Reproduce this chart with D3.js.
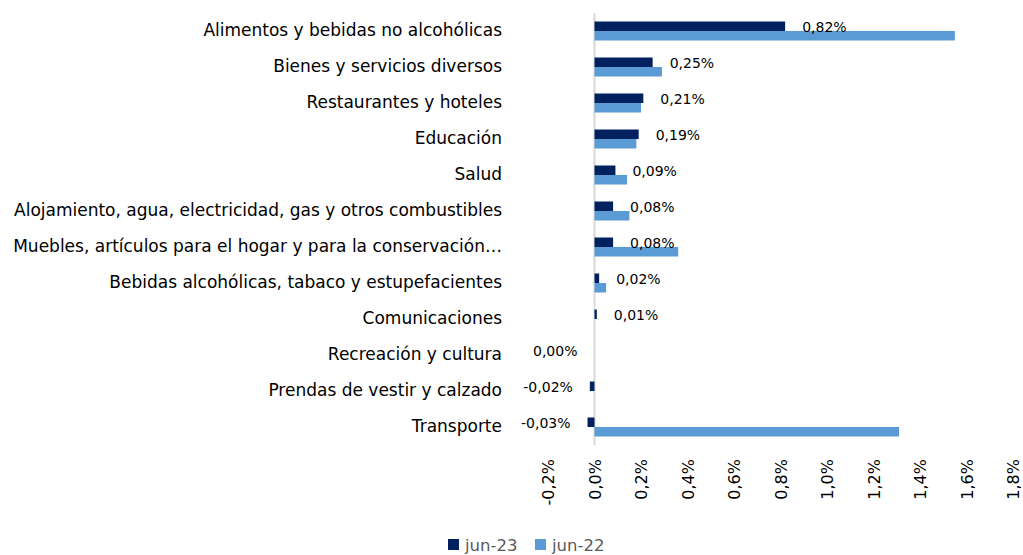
<!DOCTYPE html>
<html>
<head>
<meta charset="utf-8">
<script src="https://cdn.jsdelivr.net/npm/d3@7"></script>
<style>
  html, body { margin: 0; padding: 0; background: #fff; }
  svg { display: block; font-family: "DejaVu Sans", sans-serif; }
</style>
</head>
<body>
<svg id="chart" width="1023" height="555"></svg>
<script>
const categories = [
  "Alimentos y bebidas no alcohólicas",
  "Bienes y servicios diversos",
  "Restaurantes y hoteles",
  "Educación",
  "Salud",
  "Alojamiento, agua, electricidad, gas y otros combustibles",
  "Muebles, artículos para el hogar y para la conservación…",
  "Bebidas alcohólicas, tabaco y estupefacientes",
  "Comunicaciones",
  "Recreación y cultura",
  "Prendas de vestir y calzado",
  "Transporte"
];
const jun23 = [0.82, 0.25, 0.21, 0.19, 0.09, 0.08, 0.08, 0.02, 0.01, 0.00, -0.02, -0.03];
const jun22 = [1.55, 0.29, 0.20, 0.18, 0.14, 0.15, 0.36, 0.05, 0.00, 0.00, 0.00, 1.31];
const seriesNames = ["jun-23", "jun-22"];
const xTicks = [-0.2, 0, 0.2, 0.4, 0.6, 0.8, 1.0, 1.2, 1.4, 1.6, 1.8];

const colors = ["#002060", "#5B9BD5"];
const font = "'DejaVu Sans', sans-serif";
const svg = d3.select("#chart");

const x = d3.scaleLinear().domain([-0.2, 1.8]).range([548, 1013]);
const y = d3.scaleBand().domain(categories).range([13, 445]);
const barH = 9.5;

const fmtPct = v => v.toFixed(2).replace(".", ",") + "%";
const fmtTick = v => v.toFixed(1).replace(".", ",") + "%";

// zero axis line
svg.append("line")
  .attr("x1", x(0)).attr("x2", x(0))
  .attr("y1", y.range()[0]).attr("y2", y.range()[1])
  .attr("stroke", "#d9d9d9").attr("stroke-width", 2);

const rows = categories.map((c, i) => ({c, a: jun23[i], b: jun22[i]}));

// jun-23 bars
svg.append("g").selectAll("rect").data(rows).join("rect")
  .attr("x", d => x(Math.min(0, d.a)))
  .attr("width", d => Math.abs(x(d.a) - x(0)))
  .attr("y", d => y(d.c) + y.bandwidth() / 2 - barH)
  .attr("height", barH)
  .attr("fill", colors[0]);

// jun-22 bars
svg.append("g").selectAll("rect").data(rows).join("rect")
  .attr("x", d => x(Math.min(0, d.b)))
  .attr("width", d => Math.abs(x(d.b) - x(0)))
  .attr("y", d => y(d.c) + y.bandwidth() / 2)
  .attr("height", barH)
  .attr("fill", colors[1]);

// data labels (jun-23)
svg.append("g").selectAll("text").data(rows).join("text")
  .attr("x", d => d.a > 0 ? x(d.a) + 17 : x(Math.min(0, d.a)) - 17)
  .attr("y", d => y(d.c) + y.bandwidth() / 2 - 3.5)
  .attr("dy", "0.35em")
  .attr("text-anchor", d => d.a > 0 ? "start" : "end")
  .attr("font-size", 14)
  .attr("font-family", font)
  .attr("fill", "#000")
  .text(d => fmtPct(d.a));

// category labels
const yAxis = d3.axisLeft(y).tickSize(0).tickPadding(0);
const gy = svg.append("g").attr("transform", "translate(502,0)").call(yAxis);
gy.select(".domain").remove();
gy.selectAll("text").attr("font-size", 17).attr("fill", "#000")
  .attr("font-family", font);

// x axis tick labels (rotated)
const xAxis = d3.axisBottom(x).tickValues(xTicks).tickFormat(fmtTick).tickSize(0).tickPadding(0);
const gx = svg.append("g").attr("transform", "translate(0,459)").call(xAxis);
gx.select(".domain").remove();
gx.selectAll("text")
  .attr("transform", "rotate(-90)")
  .attr("x", 0).attr("y", 0).attr("dy", "0.35em")
  .attr("text-anchor", "end")
  .attr("font-size", 16).attr("fill", "#000")
  .attr("font-family", font);

// legend
const legend = svg.append("g");
const legendX = [448, 535];
seriesNames.forEach((n, i) => {
  legend.append("rect").attr("x", legendX[i]).attr("y", 539).attr("width", 11).attr("height", 11).attr("fill", colors[i]);
  legend.append("text").attr("x", legendX[i] + 17).attr("y", 551)
    .attr("font-size", 16.5).attr("font-family", font).attr("fill", "#595959").text(n);
});
</script>
</body>
</html>
